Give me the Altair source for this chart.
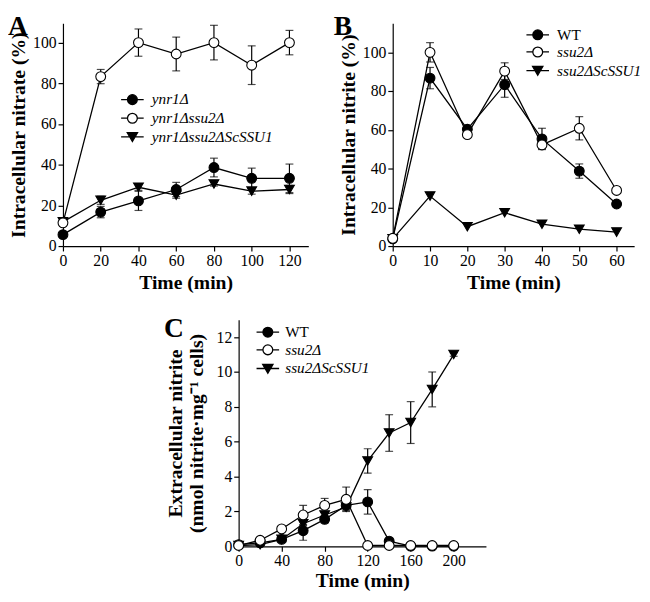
import altair as alt
import pandas as pd

FONT = "Liberation Serif"

# ---------------- Panel A: intracellular nitrate (%) ----------------
time_a = [0, 20, 40, 60, 80, 100, 120]
series_a = ["ynr1Δ", "ynr1Δssu2Δ", "ynr1Δssu2ΔScSSU1"]
a_ynr1 = [5.6, 16.7, 22.2, 27.8, 38.6, 33.3, 33.3]
a_ynr1_err = [1.0, 2.8, 4.7, 3.5, 4.6, 5.0, 7.0]
a_ynr1ssu2 = [11.4, 83.3, 100.0, 94.4, 100.0, 88.9, 100.0]
a_ynr1ssu2_err = [1.0, 3.5, 6.7, 8.3, 8.5, 9.5, 6.0]
a_sc = [11.9, 22.5, 28.9, 25.0, 30.5, 27.0, 27.8]
a_sc_err = [1.0, 2.0, 1.5, 1.5, 1.0, 1.5, 2.0]

# ---------------- Panel B: intracellular nitrite (%) ----------------
time_b = [0, 10, 20, 30, 40, 50, 60]
series_bc = ["WT", "ssu2Δ", "ssu2ΔScSSU1"]
b_wt = [3.7, 86.7, 60.3, 83.3, 55.3, 38.7, 21.7]
b_wt_err = [1.0, 5.5, 1.5, 6.5, 5.5, 3.7, 1.0]
b_ssu2 = [4.0, 100.0, 57.5, 90.3, 52.2, 60.8, 28.7]
b_ssu2_err = [1.0, 5.0, 1.0, 4.3, 2.0, 6.0, 1.0]
b_sc = [3.7, 25.8, 10.0, 17.2, 11.3, 8.7, 7.2]
b_sc_err = [0, 0, 0, 0, 0, 0, 0]

# ---------------- Panel C: extracellular nitrite ----------------
time_c = [0, 20, 40, 60, 80, 100, 120, 140, 160, 180, 200]
c_wt = [0.1, 0.2, 0.4, 0.9, 1.55, 2.35, 2.55, 0.3, 0.02, 0.02, 0.02]
c_wt_err = [0, 0, 0.1, 0.55, 0.2, 0.2, 0.7, 0.1, 0, 0, 0]
c_ssu2 = [0.05, 0.35, 1.0, 1.8, 2.35, 2.7, 0.05, 0.05, 0.05, 0.05, 0.05]
c_ssu2_err = [0, 0, 0, 0.55, 0.4, 0.7, 0, 0, 0, 0, 0]
c_sc = [0.05, 0.1, 0.4, 1.3, 1.8, 2.25, 4.9, 6.5, 7.1, 9.0, 11.0]
c_sc_err = [0, 0, 0, 0.1, 0.15, 0.2, 0.7, 1.05, 1.2, 1.0, 0.1]

# style of the three series: filled circle, open circle, filled down-triangle
fills = ["black", "white", "black"]
shapes = ["circle", "circle", "triangle-down"]
sizes = [100, 100, 130]
CIRCLE_LEG = "M-1,0A1,1 0 1,0 1,0A1,1 0 1,0 -1,0Z M-2.3,0H-1 M1,0H2.3"
TRI_LEG = "M-1.05,-0.85L1.05,-0.85L0,0.95Z M-2.3,0H-0.55 M0.55,0H2.3"
legend_paths = [CIRCLE_LEG, CIRCLE_LEG, TRI_LEG]


def long_df(times, names, values, errs):
    rows = []
    for name, vals, es in zip(names, values, errs):
        for t, v, e in zip(times, vals, es):
            rows.append({"time": t, "value": v, "err": e, "series": name,
                         "lo": v - e, "hi": v + e})
    return pd.DataFrame(rows)


def panel(df, domain, xdom, xvals, xw, ydom, yvals, yh, ytitle, ytitle_pad,
          xtitle_pad, letter, letter_x, letter_y, leg_x, leg_groups, leg_off):
    xaxis = alt.Axis(values=xvals, title="Time (min)", titlePadding=xtitle_pad)
    yaxis = alt.Axis(values=yvals, title=ytitle, titlePadding=ytitle_pad)
    xs = alt.Scale(domain=xdom, nice=False, zero=False)
    ys = alt.Scale(domain=ydom, nice=False, zero=False)
    x = alt.X("time:Q", scale=xs, axis=xaxis)
    y = alt.Y("value:Q", scale=ys, axis=yaxis)
    base = alt.Chart(df)
    lines = base.mark_line(color="black", strokeWidth=1.3).encode(
        x=x, y=y, detail="series:N")
    eb = base.transform_filter("datum.err > 0")
    rules = eb.mark_rule(color="black", strokeWidth=1.2).encode(
        x=x, y=alt.Y("lo:Q", scale=ys, axis=yaxis), y2="hi:Q")
    cap_hi = eb.mark_tick(orient="horizontal", size=8, thickness=1.2,
                          color="black").encode(
        x=x, y=alt.Y("hi:Q", scale=ys, axis=yaxis))
    cap_lo = eb.mark_tick(orient="horizontal", size=8, thickness=1.2,
                          color="black").encode(
        x=x, y=alt.Y("lo:Q", scale=ys, axis=yaxis))
    points = base.mark_point(filled=True, stroke="black", strokeWidth=1.1,
                             opacity=1).encode(
        x=x, y=y,
        shape=alt.Shape("series:N", scale=alt.Scale(domain=domain, range=shapes), legend=None),
        fill=alt.Fill("series:N", scale=alt.Scale(domain=domain, range=fills), legend=None),
        size=alt.Size("series:N", scale=alt.Scale(domain=domain, range=sizes), legend=None),
    )
    layers = [lines, rules, cap_hi, cap_lo, points]
    # legend groups: (indices of series, font style, legendY)
    for idx, style, leg_y in leg_groups:
        dom = [domain[i] for i in idx]
        leg = alt.Legend(title=None, orient="none", legendX=leg_x, legendY=leg_y,
                         labelFont=FONT, labelFontSize=15.5, labelFontStyle=style,
                         labelColor="black", symbolSize=100, symbolStrokeWidth=1.3,
                         labelOffset=leg_off, rowPadding=2, padding=0, labelLimit=300)
        layers.append(
            base.transform_filter("false").mark_point(
                filled=True, strokeWidth=1.3, opacity=1).encode(
                x=x, y=y,
                shape=alt.Shape("series:N", scale=alt.Scale(
                    domain=dom, range=[legend_paths[i] for i in idx]), legend=leg),
                fill=alt.Fill("series:N", scale=alt.Scale(
                    domain=dom, range=[fills[i] for i in idx]), legend=leg),
                stroke=alt.Stroke("series:N", scale=alt.Scale(
                    domain=dom, range=["black" for i in idx]), legend=leg),
            )
        )
    layers.append(
        alt.Chart(pd.DataFrame({"letter": [letter]})).mark_text(
            font=FONT, fontSize=28, fontWeight="bold", align="left",
            baseline="alphabetic", color="black").encode(
            text="letter:N", x=alt.value(letter_x), y=alt.value(letter_y))
    )
    return alt.layer(*layers).resolve_scale(
        shape="independent", fill="independent", size="independent",
        stroke="independent"
    ).properties(width=xw, height=yh)


# draw order: filled, triangle, open on top
df_a = long_df(time_a, [series_a[0], series_a[2], series_a[1]],
               [a_ynr1, a_sc, a_ynr1ssu2], [a_ynr1_err, a_sc_err, a_ynr1ssu2_err])
df_b = long_df(time_b, [series_bc[0], series_bc[2], series_bc[1]],
               [b_wt, b_sc, b_ssu2], [b_wt_err, b_sc_err, b_ssu2_err])
df_c = long_df(time_c, [series_bc[0], series_bc[2], series_bc[1]],
               [c_wt, c_sc, c_ssu2], [c_wt_err, c_sc_err, c_ssu2_err])

chart_a = panel(df_a, series_a, [0, 130], [0, 20, 40, 60, 80, 100, 120], 250,
                [0, 109.5], [0, 20, 40, 60, 80, 100], 227,
                "Intracellular nitrate (%)", 4, 4, "A", -56, 12, 63,
                [([0, 1, 2], "italic", 70)], 12)
chart_b = panel(df_b, series_bc, [0, 64.7], [0, 10, 20, 30, 40, 50, 60], 246,
                [0, 115], [0, 20, 40, 60, 80, 100], 227,
                "Intracellular nitrite (%)", 4, 4, "B", -60, 12, 140,
                [([0], "normal", 4), ([1, 2], "italic", 21.5)], 12)
chart_c = panel(df_c, series_bc, [0, 230], [0, 40, 80, 120, 160, 200], 252,
                [0, 13], [0, 2, 4, 6, 8, 10, 12], 231,
                ["Extracellular nitrite", "(nmol nitrite·mg⁻¹ cells)"], 10, 2,
                "C", -76, 18, 22,
                [([0], "normal", 5), ([1, 2], "italic", 23)], 10)

spacer = alt.Chart(pd.DataFrame({"s": [0]})).mark_rect(color="white").encode(
    x=alt.value(0), x2=alt.value(93), y=alt.value(0), y2=alt.value(1)
).properties(width=93, height=1)

row1 = alt.hconcat(chart_a, chart_b, spacing=26)
row2 = alt.hconcat(spacer, chart_c, spacing=10)

chart = alt.vconcat(row1, row2, spacing=24).properties(padding=0).configure_view(
    stroke=None
).configure_axis(
    grid=False, labelFont=FONT, labelFontSize=16, labelColor="black",
    titleFont=FONT, titleFontSize=20, titleFontWeight="bold", titleColor="black",
    domainColor="black", tickColor="black", tickSize=5, domainWidth=1.2,
    tickWidth=1.2, labelPadding=2, labelFlush=False, labelOverlap=False,
    titleLineHeight=21
)

chart.save("out.html", embed_options={"renderer": "svg", "actions": False})
